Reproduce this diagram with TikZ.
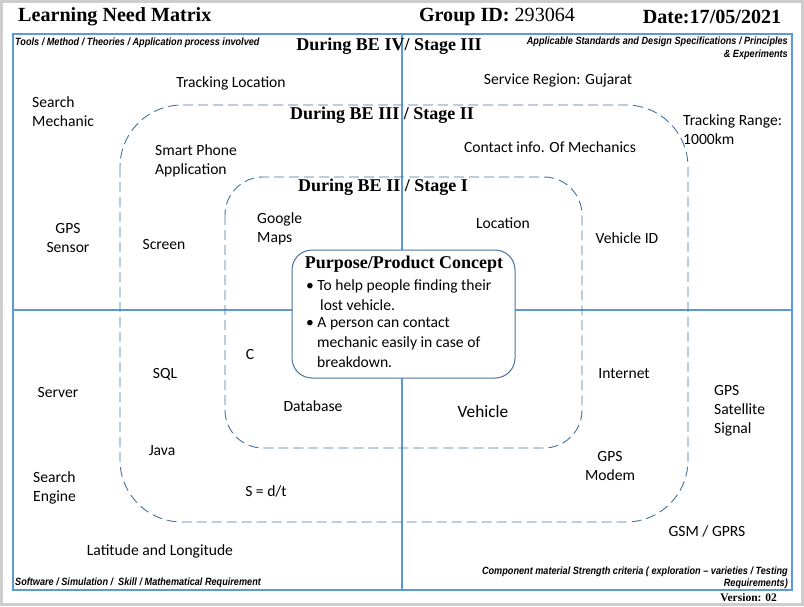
\documentclass[tikz,border=0pt]{standalone}
\usepackage{fontspec}
\setmainfont{Carlito}
\newfontfamily\serifb{Liberation Serif}
\newfontfamily\narrowf[FakeStretch=0.87]{Liberation Sans}
\definecolor{mblue}{RGB}{91,155,213}
\definecolor{dblue}{RGB}{70,114,160}
\definecolor{frame}{RGB}{205,205,205}
\begin{document}
\begin{tikzpicture}[x=1pt,y=-1pt,
  txt/.style={font=\fontsize{15.6}{19}\selectfont, inner sep=0, align=center},
  ltxt/.style={font=\fontsize{15.6}{19}\selectfont, inner sep=0, align=left, anchor=west},
  hdr/.style={font=\serifb\bfseries\fontsize{18}{20}\selectfont, inner sep=0},
  ttl/.style={font=\serifb\fontsize{20.1}{22}\selectfont, inner sep=0},
  corner/.style={font=\narrowf\bfseries\itshape\fontsize{10.5}{12.5}\selectfont, inner sep=0},
  mainline/.style={draw=mblue, line width=2pt},
  stagebox/.style={draw=dblue, line width=0.9pt, dash pattern=on 10pt off 5pt}]
\useasboundingbox (0,0) rectangle (804,606);
\draw[frame, line width=3pt] (1.5,1.5) rectangle (802.5,604.5);
% header
\node[ttl, anchor=west] (title) at (18,17) {\bfseries Learning Need Matrix};
\node[ttl] (gid) at (497,17) {\bfseries Group ID: \mdseries 293064};
\node[ttl] (date) at (712,17) {\bfseries Date:17/05/2021};
% main box and dividers
\draw[mainline] (13,34) rectangle (792,590);
\draw[mainline] (402,34) -- (402,590);
\draw[mainline] (13,310) -- (792,310);
% stage boxes
\draw[stagebox, rounded corners=62pt] (120,105) rectangle (688,522);
\draw[stagebox, rounded corners=38pt] (225,177) rectangle (582,448);
% purpose box
\draw[draw=dblue, line width=1pt, fill=white, rounded corners=20pt] (292,250) rectangle (515,378);
% stage titles
\node[hdr] (s3) at (389,46) {During BE IV/ Stage III};
\node[hdr] (s2) at (382,115) {During BE III / Stage II};
\node[hdr] (s1) at (383,187) {During BE II / Stage I};
\node[hdr] (pp) at (404,264) {Purpose/Product Concept};
% purpose bullets
\node[ltxt] (b1) at (306,286) {\textbullet\ To help people finding their};
\node[ltxt] (b1b) at (320,305) {lost vehicle.};
\node[ltxt] (b2) at (306,324) {\textbullet\ A person can contact};
\node[ltxt] (b2b) at (317,343) {mechanic easily in case of};
\node[ltxt] (b2c) at (317,362) {breakdown.};
% corner labels
\node[corner, anchor=west] (tl) at (15,43) {Tools / Method / Theories / Application process involved};
\node[corner, anchor=north east, align=right] (tr) at (788,37) {Applicable Standards and Design Specifications / Principles\\\& Experiments};
\node[corner, anchor=west] (bl) at (15,583) {Software / Simulation /\ \ Skill / Mathematical Requirement};
\node[corner, anchor=south east, align=right] (br) at (788,589) {Component material Strength criteria ( exploration – varieties / Testing\\Requirements)};
\node[font=\serifb\bfseries\fontsize{11.5}{13}\selectfont, inner sep=0, anchor=east] (ver) at (777,598) {Version: 02};
% top-left quadrant
\node[ltxt] (sm) at (32,111.5) {Search\\Mechanic};
\node[txt] (tloc) at (231,83) {Tracking Location};
\node[ltxt] (spa) at (155,160.5) {Smart Phone\\Application};
\node[txt] (gps) at (68,237.5) {GPS\\Sensor};
\node[txt] (scr) at (164,244) {Screen};
\node[ltxt] (gm) at (257,228.5) {Google\\Maps};
% top-right quadrant
\node[txt] (sr) at (558,80) {Service Region: Gujarat};
\node[ltxt] (tr2) at (683,129.5) {Tracking Range:\\1000km};
\node[txt] (ci) at (550,147) {Contact info. Of Mechanics};
\node[txt] (loc) at (503,223) {Location};
\node[txt] (vid) at (627,238) {Vehicle ID};
% bottom-left quadrant
\node[txt] (c) at (250,354) {C};
\node[txt] (sql) at (165,374) {SQL};
\node[txt] (srv) at (58,392) {Server};
\node[txt] (db) at (313,406) {Database};
\node[txt] (java) at (162,451) {Java};
\node[ltxt] (se) at (33,487.5) {Search\\Engine};
\node[txt] (sdt) at (266,491) {S = d/t};
\node[txt] (ll) at (160,551) {Latitude and Longitude};
% bottom-right quadrant
\node[txt, font=\fontsize{17.3}{19}\selectfont] (veh) at (483,412) {Vehicle};
\node[txt] (inet) at (624,374) {Internet};
\node[ltxt] (gss) at (714,410.5) {GPS\\Satellite\\Signal};
\node[txt] (gpsm) at (610,466) {GPS\\Modem};
\node[txt] (gsm) at (707,531) {GSM / GPRS};
\end{tikzpicture}
\end{document}
